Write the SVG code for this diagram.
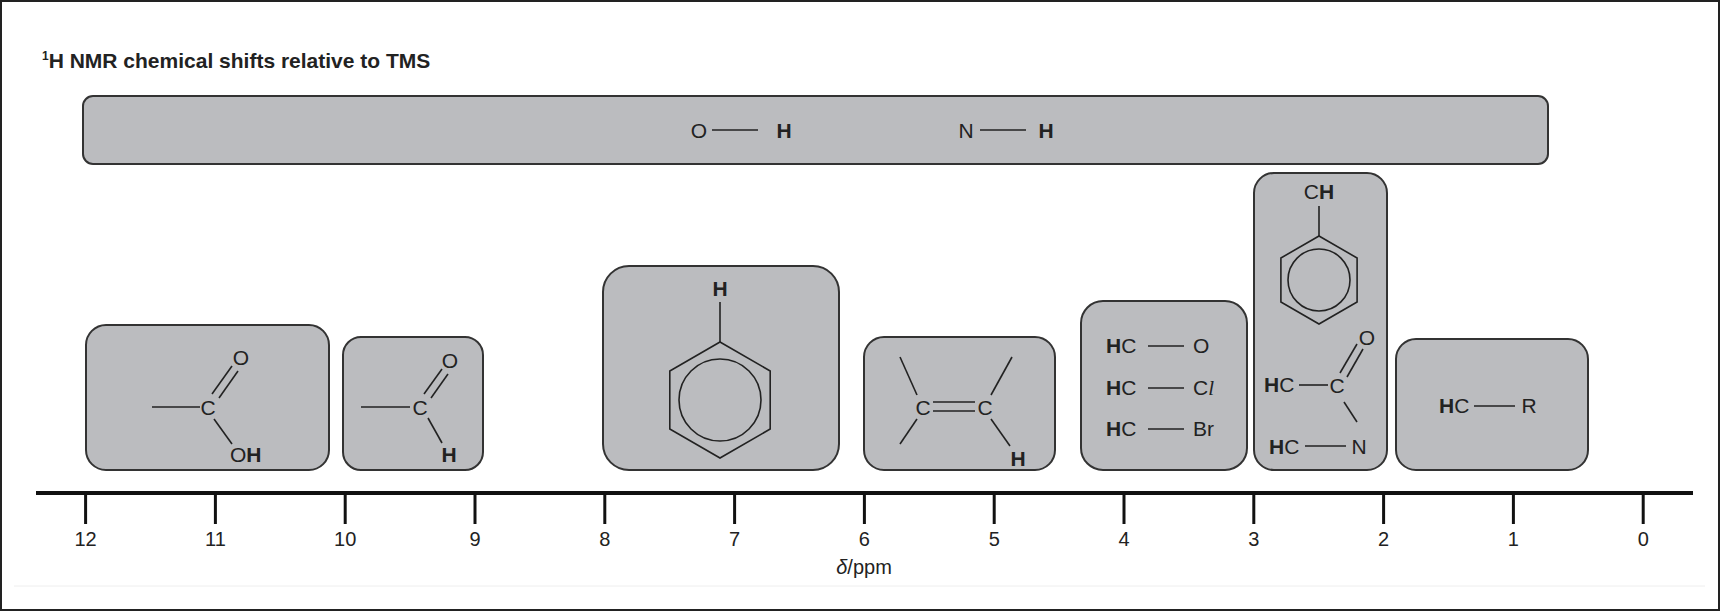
<svg xmlns="http://www.w3.org/2000/svg" width="1720" height="611" viewBox="0 0 1720 611">
<style>
.box{fill:#bbbcbf;stroke:#333;stroke-width:2}
.b{stroke:#222;stroke-width:1.6;fill:none}
.t{font-family:"Liberation Sans",Arial,sans-serif;font-size:21px;fill:#222}
.h{font-weight:bold}
.ax{stroke:#111;fill:none}
.n{font-family:"Liberation Sans",Arial,sans-serif;font-size:20px;fill:#222;text-anchor:middle}
</style>
<rect x="0" y="0" width="1720" height="611" fill="#fff"/>
<rect x="1" y="1" width="1718" height="609" fill="none" stroke="#222" stroke-width="2"/>
<line x1="14" y1="586" x2="1705" y2="586" stroke="#eee" stroke-width="1"/>
<text x="42" y="68" font-family="Liberation Sans,Arial,sans-serif" font-weight="bold" font-size="21" fill="#222"><tspan font-size="12" dy="-8">1</tspan><tspan dy="8">H NMR chemical shifts relative to TMS</tspan></text>

<g id="oh-nh">
<rect class="box" x="83" y="96" width="1465" height="68" rx="10"/>
<text class="t" x="699" y="138" text-anchor="middle">O</text>
<line class="b" x1="712" y1="130" x2="758" y2="130"/>
<text class="t h" x="784" y="138" text-anchor="middle">H</text>
<text class="t" x="966" y="138" text-anchor="middle">N</text>
<line class="b" x1="980" y1="130" x2="1026" y2="130"/>
<text class="t h" x="1046" y="138" text-anchor="middle">H</text>
</g>

<g id="cooh">
<rect class="box" x="86" y="325" width="243" height="145" rx="20"/>
<line class="b" x1="152" y1="407" x2="200" y2="407"/>
<text class="t" x="208" y="415" text-anchor="middle">C</text>
<line class="b" x1="212" y1="394" x2="232" y2="366"/>
<line class="b" x1="219" y1="398" x2="238" y2="371"/>
<text class="t" x="241" y="365" text-anchor="middle">O</text>
<line class="b" x1="214" y1="419" x2="232" y2="444"/>
<text class="t" x="230" y="462">O<tspan class="h">H</tspan></text>
</g>

<g id="cho">
<rect class="box" x="343" y="337" width="140" height="133" rx="18"/>
<line class="b" x1="361" y1="407" x2="410" y2="407"/>
<text class="t" x="420" y="415" text-anchor="middle">C</text>
<line class="b" x1="424" y1="394" x2="442" y2="369"/>
<line class="b" x1="431" y1="398" x2="448" y2="374"/>
<text class="t" x="450" y="368" text-anchor="middle">O</text>
<line class="b" x1="428" y1="418" x2="442" y2="443"/>
<text class="t h" x="449" y="462" text-anchor="middle">H</text>
</g>

<g id="arene">
<rect class="box" x="603" y="266" width="236" height="204" rx="26"/>
<text class="t h" x="720" y="296" text-anchor="middle">H</text>
<line class="b" x1="720" y1="302" x2="720" y2="342"/>
<polygon class="b" points="720,342 770.2,371 770.2,429 720,458 669.8,429 669.8,371"/>
<circle class="b" cx="720" cy="400" r="41"/>
</g>

<g id="alkene">
<rect class="box" x="864" y="337" width="191" height="133" rx="20"/>
<text class="t" x="923" y="415" text-anchor="middle">C</text>
<text class="t" x="985" y="415" text-anchor="middle">C</text>
<line class="b" x1="933" y1="402" x2="975" y2="402"/>
<line class="b" x1="933" y1="411" x2="975" y2="411"/>
<line class="b" x1="917" y1="395" x2="900" y2="357"/>
<line class="b" x1="917" y1="419" x2="900" y2="444"/>
<line class="b" x1="991" y1="395" x2="1012" y2="357"/>
<line class="b" x1="991" y1="419" x2="1010" y2="446"/>
<text class="t h" x="1018" y="466" text-anchor="middle">H</text>
</g>

<g id="hetero">
<rect class="box" x="1081" y="301" width="166" height="169" rx="22"/>
<text class="t" x="1106" y="353"><tspan class="h">H</tspan>C</text>
<line class="b" x1="1148" y1="346" x2="1184" y2="346"/>
<text class="t" x="1193" y="353">O</text>
<text class="t" x="1106" y="395"><tspan class="h">H</tspan>C</text>
<line class="b" x1="1148" y1="388" x2="1184" y2="388"/>
<text class="t" x="1193" y="395">C<tspan font-style="italic" font-family="Liberation Serif,serif">l</tspan></text>
<text class="t" x="1106" y="436"><tspan class="h">H</tspan>C</text>
<line class="b" x1="1148" y1="429" x2="1184" y2="429"/>
<text class="t" x="1193" y="436">Br</text>
</g>

<g id="benzylic-carbonyl">
<rect class="box" x="1254" y="173" width="133" height="297" rx="20"/>
<text class="t" x="1319" y="199" text-anchor="middle">C<tspan class="h">H</tspan></text>
<line class="b" x1="1319" y1="206" x2="1319" y2="236"/>
<polygon class="b" points="1319,236 1357.1,258 1357.1,302 1319,324 1280.9,302 1280.9,258"/>
<circle class="b" cx="1319" cy="280" r="31"/>
<text class="t" x="1264" y="392"><tspan class="h">H</tspan>C</text>
<line class="b" x1="1299" y1="385" x2="1328" y2="385"/>
<text class="t" x="1337" y="393" text-anchor="middle">C</text>
<line class="b" x1="1340" y1="373" x2="1357" y2="344"/>
<line class="b" x1="1347" y1="377" x2="1363" y2="349"/>
<text class="t" x="1367" y="345" text-anchor="middle">O</text>
<line class="b" x1="1344" y1="402" x2="1357" y2="422"/>
<text class="t" x="1269" y="454"><tspan class="h">H</tspan>C</text>
<line class="b" x1="1305" y1="446" x2="1346" y2="446"/>
<text class="t" x="1359" y="454" text-anchor="middle">N</text>
</g>

<g id="alkyl">
<rect class="box" x="1396" y="339" width="192" height="131" rx="20"/>
<text class="t" x="1439" y="413"><tspan class="h">H</tspan>C</text>
<line class="b" x1="1474" y1="406" x2="1515" y2="406"/>
<text class="t" x="1529" y="413" text-anchor="middle">R</text>
</g>

<g id="axis">
<line class="ax" x1="36" y1="493" x2="1693" y2="493" stroke-width="4"/>
<g stroke="#111" stroke-width="3">
<line x1="85.6" y1="493" x2="85.6" y2="524"/><line x1="215.4" y1="493" x2="215.4" y2="524"/>
<line x1="345.2" y1="493" x2="345.2" y2="524"/><line x1="475" y1="493" x2="475" y2="524"/>
<line x1="604.8" y1="493" x2="604.8" y2="524"/><line x1="734.6" y1="493" x2="734.6" y2="524"/>
<line x1="864.4" y1="493" x2="864.4" y2="524"/><line x1="994.2" y1="493" x2="994.2" y2="524"/>
<line x1="1124" y1="493" x2="1124" y2="524"/><line x1="1253.8" y1="493" x2="1253.8" y2="524"/>
<line x1="1383.6" y1="493" x2="1383.6" y2="524"/><line x1="1513.4" y1="493" x2="1513.4" y2="524"/>
<line x1="1643.2" y1="493" x2="1643.2" y2="524"/>
</g>
<text class="n" x="85.6" y="546">12</text><text class="n" x="215.4" y="546">11</text>
<text class="n" x="345.2" y="546">10</text><text class="n" x="475" y="546">9</text>
<text class="n" x="604.8" y="546">8</text><text class="n" x="734.6" y="546">7</text>
<text class="n" x="864.4" y="546">6</text><text class="n" x="994.2" y="546">5</text>
<text class="n" x="1124" y="546">4</text><text class="n" x="1253.8" y="546">3</text>
<text class="n" x="1383.6" y="546">2</text><text class="n" x="1513.4" y="546">1</text>
<text class="n" x="1643.2" y="546">0</text>
<text class="n" x="864" y="574"><tspan font-style="italic">δ</tspan>/ppm</text>
</g>
</svg>
